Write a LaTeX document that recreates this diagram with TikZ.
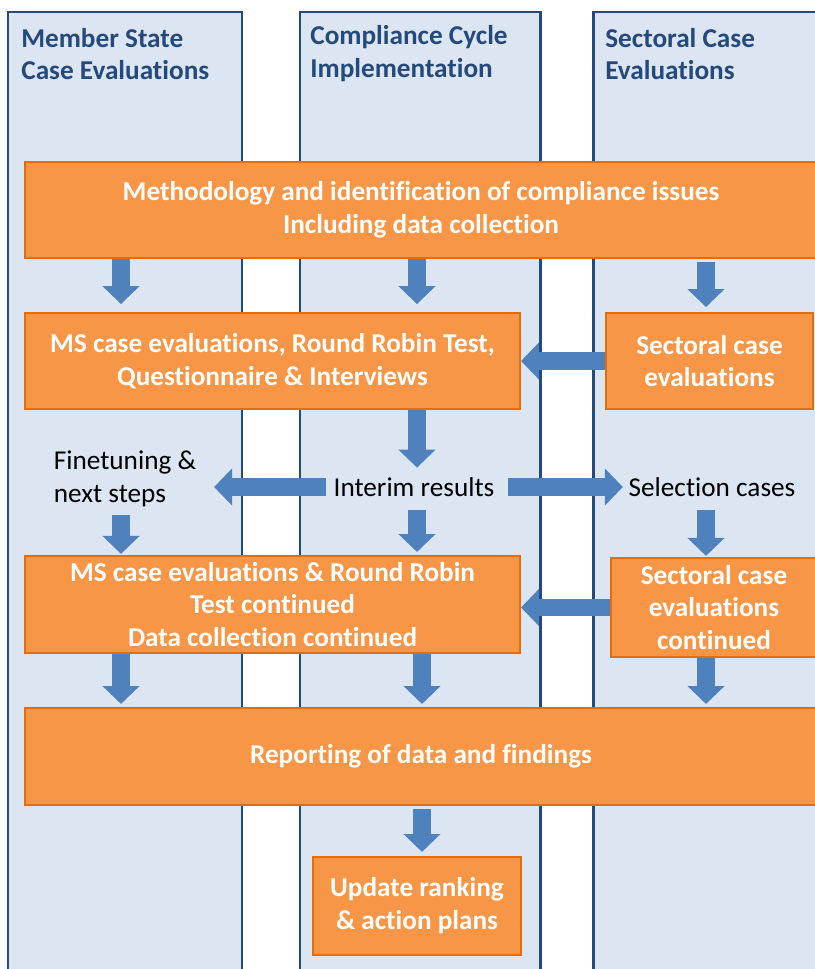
\documentclass[tikz,border=0pt]{standalone}
\usepackage{fontspec}
\setmainfont{Carlito}[Ligatures={NoCommon},Contextuals={NoAlternate},RawFeature={-liga;-calt;-dlig}]
\usetikzlibrary{arrows.meta,calc}
\pgfdeclarelayer{columnlayer}
\pgfdeclarelayer{edgelayer}
\pgfdeclarelayer{nodelayer}
\pgfsetlayers{columnlayer,edgelayer,nodelayer,main}
\definecolor{colfill}{HTML}{DCE6F2}
\definecolor{colline}{HTML}{25497A}
\definecolor{boxfill}{HTML}{F79646}
\definecolor{boxline}{HTML}{E46C0A}
\definecolor{arrowblue}{HTML}{4F81BD}
\tikzset{font=\fontsize{15.5}{18.7}\selectfont}
\tikzstyle{column}=[fill=colfill,draw=colline,line width=1.7pt]
\tikzstyle{head}=[anchor=west,align=left,inner sep=0pt,text=colline,font=\fontsize{15.5}{18.7}\selectfont\bfseries]
\tikzstyle{box}=[rectangle,fill=boxfill,draw=boxline,line width=1.2pt,align=center,text=white,font=\fontsize{15.5}{18.7}\selectfont\bfseries]
\tikzstyle{plain}=[align=left,inner sep=2pt,text=black]
\tikzstyle{flow}=[draw=arrowblue,line width=10.2pt,-{Triangle[width=20.5pt,length=10.2pt]}]

\begin{document}
\begin{tikzpicture}[x=0.02cm,y=-0.02cm]
	\useasboundingbox (0,0) rectangle (814,969);
	\clip (0,0) rectangle (814,969);
	\begin{pgfonlayer}{columnlayer}
		\draw [style=column] (8,12) rectangle (242,1000);
		\draw [style=column] (300,12) rectangle (540,1000);
		\draw [style=column] (593,12) rectangle (850,1000);
	\end{pgfonlayer}
	\begin{pgfonlayer}{nodelayer}
		\node [style=head] (h0) at (21,54) {Member State\\Case Evaluations};
		\node [style=head] (h1) at (310,54) {Compliance Cycle\\Implementation};
		\node [style=head] (h2) at (605,54) {Sectoral Case\\Evaluations};
		\node [style=box, minimum width=15.84cm, minimum height=1.92cm] (1) at (421,210) {Methodology and identification of compliance issues\\Including data collection};
		\node [style=box, minimum width=9.9cm, minimum height=1.92cm] (2) at (272.5,361) {MS case evaluations, Round Robin Test,\\Questionnaire \& Interviews};
		\node [style=box, minimum width=4.14cm, minimum height=1.92cm] (3) at (709.5,361) {Sectoral case\\evaluations};
		\node [style=plain] (4) at (414,487) {Interim results};
		\node [style=plain, anchor=west] (5) at (50,479) {Finetuning \&\\next steps};
		\node [style=plain] (6) at (712,487) {Selection cases};
		\node [style=box, minimum width=9.9cm, minimum height=1.94cm] (7) at (272.5,604.5) {MS case evaluations \& Round Robin\\Test continued\\Data collection continued};
		\node [style=box, minimum width=4.12cm, minimum height=1.98cm] (8) at (714,607.5) {Sectoral case\\evaluations\\continued};
		\node [style=box, minimum width=15.84cm, minimum height=1.94cm] (9) at (421,756.5) {Reporting of data and findings};
		\node [style=box, minimum width=4.16cm, minimum height=1.96cm] (10) at (417,906) {Update ranking\\\& action plans};
		\coordinate (xl) at (121,0);
		\coordinate (xm) at (417,0);
		\coordinate (xn) at (422,0);
		\coordinate (xr) at (706,0);
	\end{pgfonlayer}
	\begin{pgfonlayer}{edgelayer}
		\draw [style=flow, shorten >=4.5pt] (1.south -| xl) to (2.north -| xl);
		\draw [style=flow, shorten >=4.5pt] (1.south -| xm) to (2.north -| xm);
		\draw [style=flow, shorten <=1.7pt, shorten >=2.8pt] (1.south -| xr) to (3.north -| xr);
		\draw [style=flow] (3.west) to (2.east);
		\draw [style=flow, shorten >=3.4pt] (2.south -| xm) to (4.north -| xm);
		\draw [style=flow, shorten <=2.3pt, shorten >=8pt] (4.west) to (4.west -| 5.east);
		\draw [style=flow, shorten <=5.7pt, shorten >=1.1pt] (4.east) to (6.west);
		\draw [style=flow, shorten <=2.3pt, shorten >=0.6pt] (5.south -| xl) to (7.north -| xl);
		\draw [style=flow, shorten <=5.7pt, shorten >=1.7pt] (4.south -| xm) to (7.north -| xm);
		\draw [style=flow, shorten <=5.7pt, shorten >=0.6pt] (6.south -| xr) to (8.north -| xr);
		\draw [style=flow] (8.west) to (8.west -| 7.east);
		\draw [style=flow, shorten >=1.7pt] (7.south -| xl) to (9.north -| xl);
		\draw [style=flow, shorten >=1.7pt] (7.south -| xn) to (9.north -| xn);
		\draw [style=flow, shorten >=1.7pt] (8.south -| xr) to (9.north -| xr);
		\draw [style=flow, shorten <=1.7pt, shorten >=2.3pt] (9.south -| xn) to (10.north -| xn);
	\end{pgfonlayer}
\end{tikzpicture}
\end{document}
